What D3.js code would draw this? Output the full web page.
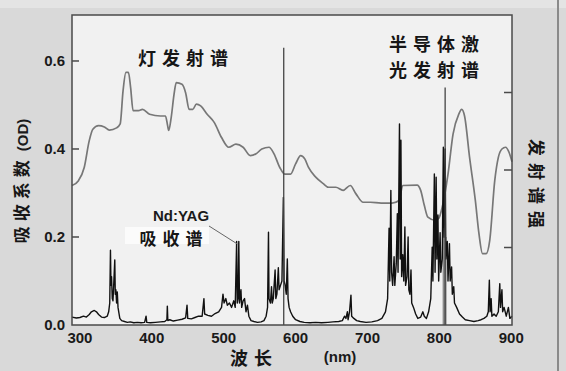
<!DOCTYPE html>
<html>
<head>
<meta charset="utf-8">
<script src="https://cdn.jsdelivr.net/npm/d3@7"></script>
<style>
  body { margin: 0; background: #d8d8d8; }
  svg { display: block; }
  .tick-label { font-family: 'Liberation Sans', Arial, sans-serif; font-weight: bold; font-size: 15px; fill: #1a1a1a; }
  .cjk { font-family: 'Noto Sans CJK SC', sans-serif; font-weight: bold; fill: #161616; }
</style>
</head>
<body>
<svg id="chart" width="566" height="371"></svg>
<script>
// x axis ticks (nm) and y ticks (OD)
const xTicks = [300, 400, 500, 600, 700, 800, 900]
const yTicks = [0.0, 0.2, 0.4, 0.6]
const rightTicks = [1, 2, 3]

// lamp emission spectrum (grey curve)
const lampWl = [289, 298, 306, 313, 318, 326, 334, 341, 351, 356, 360, 364, 367.5, 370.5, 374, 381.5, 387, 397, 412, 419,
  422, 423.5, 427, 431, 434, 442, 447, 452, 457, 462, 468, 477, 487, 497, 507, 517, 527, 537, 545, 553,
  563, 570, 578, 585, 593, 600, 607, 613, 618, 628, 638, 646, 656, 666, 676, 684, 694, 704, 719, 734,
  744, 749, 769, 774, 779, 784, 794, 799, 804, 812, 819, 827, 831, 835, 842, 850, 855, 860, 865, 870,
  877, 882, 887, 892, 897, 901]
const lampVal = [0.317, 0.328, 0.358, 0.419, 0.445, 0.453, 0.45, 0.443, 0.448, 0.457, 0.532, 0.574, 0.574, 0.54, 0.487, 0.487, 0.49, 0.479, 0.475, 0.475,
  0.453, 0.442, 0.472, 0.525, 0.551, 0.547, 0.528, 0.49, 0.49, 0.502, 0.498, 0.479, 0.46, 0.426, 0.404, 0.411, 0.404, 0.385, 0.389, 0.4,
  0.404, 0.389, 0.358, 0.343, 0.343, 0.366, 0.385, 0.377, 0.358, 0.336, 0.322, 0.313, 0.313, 0.306, 0.317, 0.298, 0.279, 0.279, 0.277, 0.277,
  0.283, 0.317, 0.318, 0.306, 0.272, 0.245, 0.238, 0.242, 0.268, 0.343, 0.434, 0.479, 0.49, 0.475, 0.381, 0.283, 0.208, 0.162, 0.162, 0.192,
  0.328, 0.381, 0.4, 0.404, 0.392, 0.371]

// narrow emission lines (lamp line and diode laser line)
const lineWl = [583.5, 808]
const lineTop = [0.63, 0.54]

// diode emission base band near 808 nm
const bandWl = [804.5, 810]
const bandTop = 0.2

// Nd:YAG absorption spectrum [nm, OD]
const absorption = [
  [289, 0.018], [295, 0.016], [300, 0.017], [305, 0.02], [309, 0.018], [313, 0.024], [316, 0.03], [320, 0.033], [323, 0.03], [326, 0.024],
  [330, 0.018], [334, 0.017], [338, 0.02], [340, 0.03], [341.5, 0.05], [342.5, 0.17], [343.2, 0.09], [344, 0.11], [345, 0.06], [346, 0.055],
  [347, 0.09], [348.5, 0.148], [349.2, 0.07], [350, 0.08], [351, 0.05], [352, 0.075], [353, 0.04], [354, 0.03], [355.5, 0.015], [358, 0.01],
  [362, 0.008], [366, 0.006], [370, 0.007], [375, 0.005], [380, 0.006], [385, 0.005], [390, 0.006], [392, 0.02], [393, 0.006], [398, 0.005],
  [405, 0.006], [412, 0.007], [418, 0.008], [421, 0.012], [421.6, 0.043], [422.3, 0.01], [425, 0.012], [430, 0.009], [436, 0.011], [442, 0.013],
  [447, 0.016], [449, 0.045], [450, 0.015], [455, 0.014], [460, 0.017], [465, 0.02], [470, 0.02], [472.5, 0.06], [473.5, 0.025], [478, 0.022],
  [483, 0.02], [488, 0.026], [493, 0.03], [497, 0.04], [499, 0.07], [500.5, 0.05], [503, 0.06], [505, 0.045], [508, 0.05], [511, 0.04],
  [514, 0.055], [516, 0.04], [518, 0.19], [518.8, 0.05], [520, 0.06], [521, 0.19], [522, 0.05], [524, 0.08], [525, 0.04], [527, 0.055],
  [529, 0.06], [531, 0.03], [533, 0.045], [535, 0.02], [538, 0.01], [542, 0.008], [547, 0.006], [552, 0.007], [556, 0.01], [559, 0.02],
  [561, 0.04], [562.3, 0.211], [563, 0.06], [565, 0.05], [566.5, 0.087], [567.5, 0.05], [569, 0.06], [571.5, 0.125], [572.5, 0.06], [574, 0.07],
  [576, 0.13], [577, 0.08], [579, 0.09], [581, 0.1], [583, 0.29], [584, 0.1], [585.5, 0.09], [587, 0.07], [588.5, 0.15], [589.5, 0.06],
  [591, 0.04], [593, 0.03], [596, 0.02], [600, 0.012], [606, 0.008], [612, 0.006], [620, 0.005], [628, 0.006], [636, 0.005], [645, 0.006],
  [652, 0.007], [660, 0.008], [665, 0.01], [668, 0.02], [670, 0.015], [672, 0.03], [673, 0.012], [675, 0.03], [677, 0.068], [678, 0.02],
  [681, 0.015], [685, 0.01], [690, 0.008], [698, 0.006], [706, 0.007], [714, 0.01], [720, 0.015], [725, 0.03], [728, 0.06], [730, 0.22],
  [731, 0.1], [732.5, 0.306], [733.5, 0.12], [735, 0.09], [737, 0.155], [738, 0.09], [740, 0.14], [741.5, 0.253], [742.5, 0.12], [744.5, 0.457],
  [745.5, 0.15], [746.5, 0.42], [747.5, 0.11], [749, 0.16], [750.5, 0.1], [752, 0.223], [753, 0.09], [755, 0.11], [756.5, 0.2], [757.5, 0.08],
  [759, 0.07], [760.5, 0.125], [761.5, 0.05], [764, 0.04], [767, 0.025], [770, 0.015], [774, 0.018], [777, 0.03], [779, 0.02], [782, 0.015],
  [785, 0.03], [788, 0.06], [790, 0.177], [791, 0.1], [793, 0.343], [794, 0.12], [795.5, 0.336], [796.5, 0.15], [798, 0.25], [799, 0.1],
  [801, 0.21], [802, 0.12], [804, 0.15], [805.5, 0.404], [806.5, 0.2], [808, 0.4], [809, 0.15], [811, 0.19], [812, 0.1], [814, 0.185],
  [815, 0.1], [817, 0.132], [818, 0.07], [820, 0.087], [821, 0.05], [824, 0.04], [828, 0.025], [832, 0.018], [836, 0.012], [842, 0.01],
  [848, 0.008], [854, 0.01], [858, 0.012], [862, 0.015], [866, 0.02], [868, 0.03], [869.5, 0.102], [870.5, 0.03], [872, 0.06], [873, 0.02],
  [876, 0.025], [879, 0.02], [882, 0.03], [884, 0.094], [885, 0.04], [887, 0.08], [888, 0.03], [890, 0.04], [893, 0.02], [896, 0.04],
  [898, 0.015], [901, 0.02]
]

const LEFT = 72, RIGHT = 512, TOP = 15, BOTTOM = 325

const svg = d3.select('#chart')
const x = d3.scaleLinear().domain([289, 901]).range([LEFT, RIGHT])
const y = d3.scaleLinear().domain([0, 0.7045]).range([BOTTOM, TOP])
const yRight = d3.scaleLinear().domain([0, 4]).range([BOTTOM, TOP])

// backgrounds
svg.append('rect').attr('width', 566).attr('height', 371).attr('fill', '#d9d9d9')
svg.append('rect').attr('x', 0).attr('y', 0).attr('width', 566).attr('height', 8).attr('fill', '#e4e4e4')
svg.append('line').attr('x1', 558).attr('x2', 558).attr('y1', 0).attr('y2', 371)
    .attr('stroke', '#8a8a8a').attr('stroke-width', 2)
svg.append('rect').attr('x', LEFT).attr('y', TOP).attr('width', RIGHT - LEFT).attr('height', BOTTOM - TOP)
    .attr('fill', '#f1f1f1')

// diode band
svg.append('rect')
    .attr('x', x(bandWl[0])).attr('width', x(bandWl[1]) - x(bandWl[0]))
    .attr('y', y(bandTop)).attr('height', y(0) - y(bandTop))
    .attr('fill', '#8c8c8c')

// lamp emission
const lampData = lampWl.map((w, i) => [w, lampVal[i]])
svg.append('path')
    .datum(lampData)
    .attr('fill', 'none')
    .attr('stroke', '#777')
    .attr('stroke-width', 1.7)
    .attr('d', d3.line().x(d => x(d[0])).y(d => y(d[1])).curve(d3.curveMonotoneX))

// absorption
svg.append('path')
    .datum(absorption)
    .attr('fill', 'none')
    .attr('stroke', '#111')
    .attr('stroke-width', 1.4)
    .attr('stroke-linejoin', 'round')
    .attr('d', d3.line().x(d => x(d[0])).y(d => y(d[1])))

// narrow lines
svg.selectAll('.em-line')
    .data(lineWl)
    .join('line')
    .attr('class', 'em-line')
    .attr('x1', d => x(d)).attr('x2', d => x(d))
    .attr('y1', y(0)).attr('y2', (d, i) => y(lineTop[i]))
    .attr('stroke', '#444')
    .attr('stroke-width', 1.3)

// frame
svg.append('rect').attr('x', LEFT).attr('y', TOP).attr('width', RIGHT - LEFT).attr('height', BOTTOM - TOP)
    .attr('fill', 'none').attr('stroke', '#4a4a4a').attr('stroke-width', 1.5)

// inward ticks
svg.selectAll('.ytick')
    .data(yTicks.filter(d => d > 0))
    .join('line')
    .attr('x1', LEFT).attr('x2', LEFT + 7)
    .attr('y1', d => y(d)).attr('y2', d => y(d))
    .attr('stroke', '#4a4a4a').attr('stroke-width', 1.5)
svg.selectAll('.rtick')
    .data(rightTicks)
    .join('line')
    .attr('x1', RIGHT - 8).attr('x2', RIGHT)
    .attr('y1', d => yRight(d)).attr('y2', d => yRight(d))
    .attr('stroke', '#4a4a4a').attr('stroke-width', 1.5)

svg.selectAll('.ylab')
    .data(yTicks)
    .join('text')
    .attr('class', 'tick-label')
    .attr('x', 65)
    .attr('y', d => y(d) + 5)
    .attr('text-anchor', 'end')
    .text(d => d3.format('.1f')(d))

svg.selectAll('.xlab')
    .data(xTicks)
    .join('text')
    .attr('class', 'tick-label')
    .attr('x', d => x(d))
    .attr('y', 343)
    .attr('text-anchor', 'middle')
    .text(d => d)

// axis titles
svg.append('text').attr('class', 'cjk')
    .attr('x', 254).attr('y', 365).attr('text-anchor', 'middle')
    .attr('font-size', 18).attr('letter-spacing', 6)
    .text('波长')
svg.append('text').attr('class', 'tick-label')
    .attr('x', 340).attr('y', 362).attr('text-anchor', 'middle').attr('font-size', 14)
    .text('(nm)')

const yTitle = svg.append('text')
    .attr('transform', 'translate(28,181) rotate(-90)')
    .attr('text-anchor', 'middle')
yTitle.append('tspan').attr('class', 'cjk').attr('font-size', 17).attr('letter-spacing', 5).text('吸收系数')
yTitle.append('tspan').attr('class', 'tick-label').attr('font-size', 13).attr('dx', 4).text('(OD)')

svg.append('text').attr('class', 'cjk')
    .attr('transform', 'translate(530,187) rotate(90)')
    .attr('text-anchor', 'middle')
    .attr('font-size', 17).attr('letter-spacing', 7)
    .text('发射谱强')

// annotations
svg.append('text').attr('class', 'cjk')
    .attr('x', 186).attr('y', 65).attr('text-anchor', 'middle')
    .attr('font-size', 18).attr('letter-spacing', 6)
    .text('灯发射谱')
svg.append('text').attr('class', 'cjk')
    .attr('x', 437).attr('y', 51).attr('text-anchor', 'middle')
    .attr('font-size', 18).attr('letter-spacing', 6)
    .text('半导体激')
svg.append('text').attr('class', 'cjk')
    .attr('x', 437).attr('y', 77).attr('text-anchor', 'middle')
    .attr('font-size', 18).attr('letter-spacing', 6)
    .text('光发射谱')

svg.append('rect').attr('x', 125).attr('y', 227).attr('width', 84).attr('height', 17).attr('fill', '#fbfbfb')
svg.append('text').attr('class', 'tick-label')
    .attr('x', 181).attr('y', 221).attr('text-anchor', 'middle').attr('font-size', 14)
    .text('Nd:YAG')
svg.append('text').attr('class', 'cjk')
    .attr('x', 174).attr('y', 245).attr('text-anchor', 'middle')
    .attr('font-size', 17).attr('letter-spacing', 6)
    .text('吸收谱')
svg.append('line')
    .attr('x1', 209).attr('y1', 226).attr('x2', x(519)).attr('y2', 244)
    .attr('stroke', '#666').attr('stroke-width', 1)
</script>
</body>
</html>
